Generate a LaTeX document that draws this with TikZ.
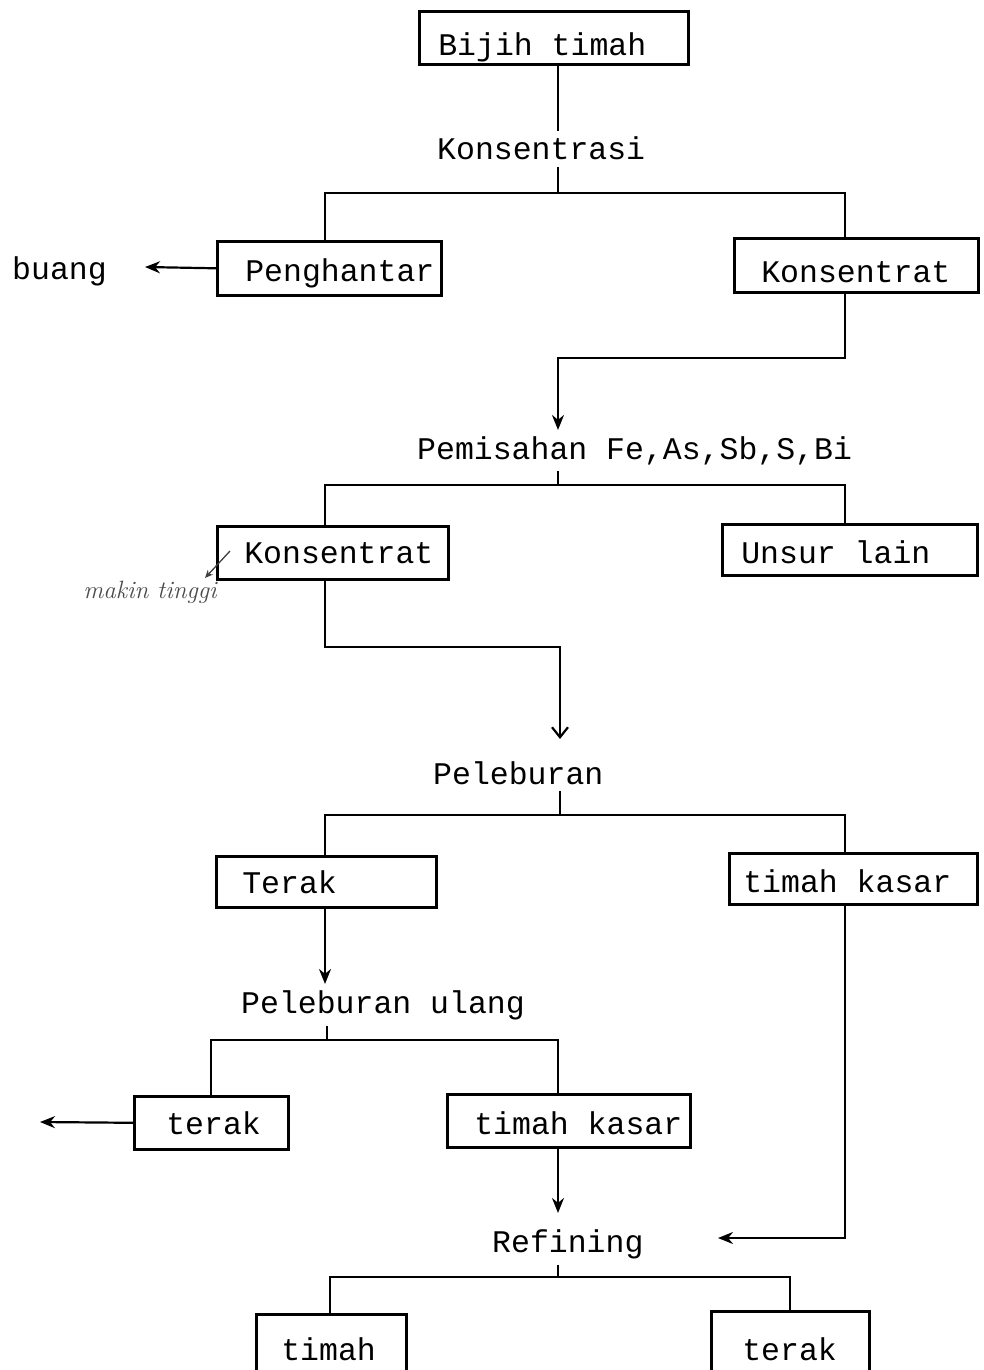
\documentclass[tikz,border=0pt]{standalone}
\usepackage{fontspec}
\setmonofont{Liberation Mono}
\usetikzlibrary{arrows.meta}
\newcommand\bxtext[3]{\makebox[#1][l]{\hspace*{#2}#3}}
\begin{document}
\begin{tikzpicture}[x=1pt,y=-1pt,
  every node/.style={font=\ttfamily\fontsize{31.5}{36}\selectfont},
  box/.style={draw, line width=2.6pt, anchor=north west, inner xsep=0pt, inner ysep=0pt},
  lab/.style={anchor=base west, inner xsep=0pt, inner ysep=6pt},
  conn/.style={line width=2.2pt},
  arr/.style={conn, -{Stealth[length=15pt,width=12pt]}},
  varr/.style={conn, -{Straight Barb[length=10pt,width=16pt]}},
  notearr/.style={line width=1.3pt, black!75, -{Stealth[length=8pt,width=7pt]}}
]
\clip (0,0) rectangle (983,1370);
\fill[white] (0,0) rectangle (983,1370);

% boxes
\node[box, text height=44pt, text depth=9pt]  (bij)  at (418,10)   {\bxtext{269pt}{19pt}{Bijih timah}};
\node[box, text height=40pt, text depth=14pt] (pen)  at (216,240)  {\bxtext{224pt}{28pt}{Penghantar}};
\node[box, text height=44pt, text depth=10pt] (kon1) at (733,237)  {\bxtext{244pt}{27pt}{Konsentrat}};
\node[box, text height=37pt, text depth=16pt] (kon2) at (216,525)  {\bxtext{231pt}{27pt}{Konsentrat}};
\node[box, text height=39pt, text depth=12pt] (uns)  at (721,523)  {\bxtext{255pt}{19pt}{Unsur lain}};
\node[box, text height=37pt, text depth=14pt] (ter)  at (215,855)  {\bxtext{220pt}{26pt}{Terak}};
\node[box, text height=39pt, text depth=12pt] (tkR)  at (728,852)  {\bxtext{248pt}{14pt}{timah kasar}};
\node[box, text height=38pt, text depth=15pt] (ter2) at (133,1095) {\bxtext{154pt}{32pt}{terak}};
\node[box, text height=40pt, text depth=13pt] (tk2)  at (446,1093) {\bxtext{243pt}{27pt}{timah kasar}};
\node[box, text height=46pt, text depth=34pt] (tim)  at (255,1313) {\bxtext{150pt}{25pt}{timah}};
\node[box, text height=49pt, text depth=34pt] (ter3) at (710,1310) {\bxtext{158pt}{31pt}{terak}};

% labels
\node[lab] (buang) at (12,279)   {buang};
\node[lab] (konsi) at (437,160)  {Konsentrasi};
\node[lab] (pem)   at (417,459)  {Pemisahan Fe,As,Sb,S,Bi};
\node[lab] (pel)   at (433,784)  {Peleburan};
\node[lab] (pu)    at (241,1013) {Peleburan ulang};
\node[lab] (ref)   at (492,1252) {Refining};

% handwritten note
\node[font=\rmfamily\itshape\fontsize{25}{28}\selectfont, text=black!70, inner sep=0pt] (note) at (150,592) {makin tinggi};
\coordinate (n1) at (230,551);
\coordinate (n2) at (205,578);
\draw[notearr] (n1) -- (n2);

% Konsentrasi
\coordinate (k1) at (558,193);
\coordinate (k1l) at (325,193);
\coordinate (k1r) at (845,193);
\draw[conn] (bij.south -| k1) -- (konsi.north -| k1);
\draw[conn] (konsi.south -| k1) -- (k1);
\draw[conn] (k1l |- pen.north) -- (k1l) -- (k1r) -- (k1r |- kon1.north);
\coordinate (bt) at (145,267);
\draw[arr] (pen.west) -- (bt);

% to Pemisahan
\coordinate (b1) at (845,358);
\coordinate (b2) at (558,358);
\draw[arr] (b1 |- kon1.south) -- (b1) -- (b2) -- (b2 |- pem.north);

% Pemisahan split
\coordinate (p1) at (558,485);
\coordinate (p1l) at (325,485);
\coordinate (p1r) at (845,485);
\draw[conn] (pem.south -| p1) -- (p1);
\draw[conn] (p1l |- kon2.north) -- (p1l) -- (p1r) -- (p1r |- uns.north);

% to Peleburan
\coordinate (c1) at (325,647);
\coordinate (c2) at (560,647);
\draw[varr, shorten >=16pt] (kon2.south -| c1) -- (c1) -- (c2) -- (c2 |- pel.north);

% Peleburan split
\coordinate (d1) at (560,815);
\coordinate (d1l) at (325,815);
\coordinate (d1r) at (845,815);
\draw[conn] (pel.south -| d1) -- (d1);
\draw[conn] (d1l |- ter.north) -- (d1l) -- (d1r) -- (d1r |- tkR.north);
\draw[arr] (ter.south -| d1l) -- (d1l |- pu.north);

% Peleburan ulang split
\coordinate (e1) at (327,1040);
\coordinate (e1l) at (211,1040);
\coordinate (e1r) at (558,1040);
\draw[conn] (pu.south -| e1) -- (e1);
\draw[conn] (e1l |- ter2.north) -- (e1l) -- (e1r) -- (e1r |- tk2.north);
\coordinate (tl) at (40,1122);
\draw[arr] (ter2.west) -- (tl);
\draw[arr, shorten >=10pt] (tk2.south -| e1r) -- (e1r |- ref.north);

% timah kasar (right) to Refining
\coordinate (f1) at (845,1238);
\coordinate (fin) at (718,1238);
\draw[arr] (tkR.south -| f1) -- (f1) -- (fin);

% Refining split
\coordinate (g1) at (558,1277);
\coordinate (g1l) at (330,1277);
\coordinate (g1r) at (790,1277);
\draw[conn] (ref.south -| g1) -- (g1);
\draw[conn] (g1l |- tim.north) -- (g1l) -- (g1r) -- (g1r |- ter3.north);
\end{tikzpicture}
\end{document}
